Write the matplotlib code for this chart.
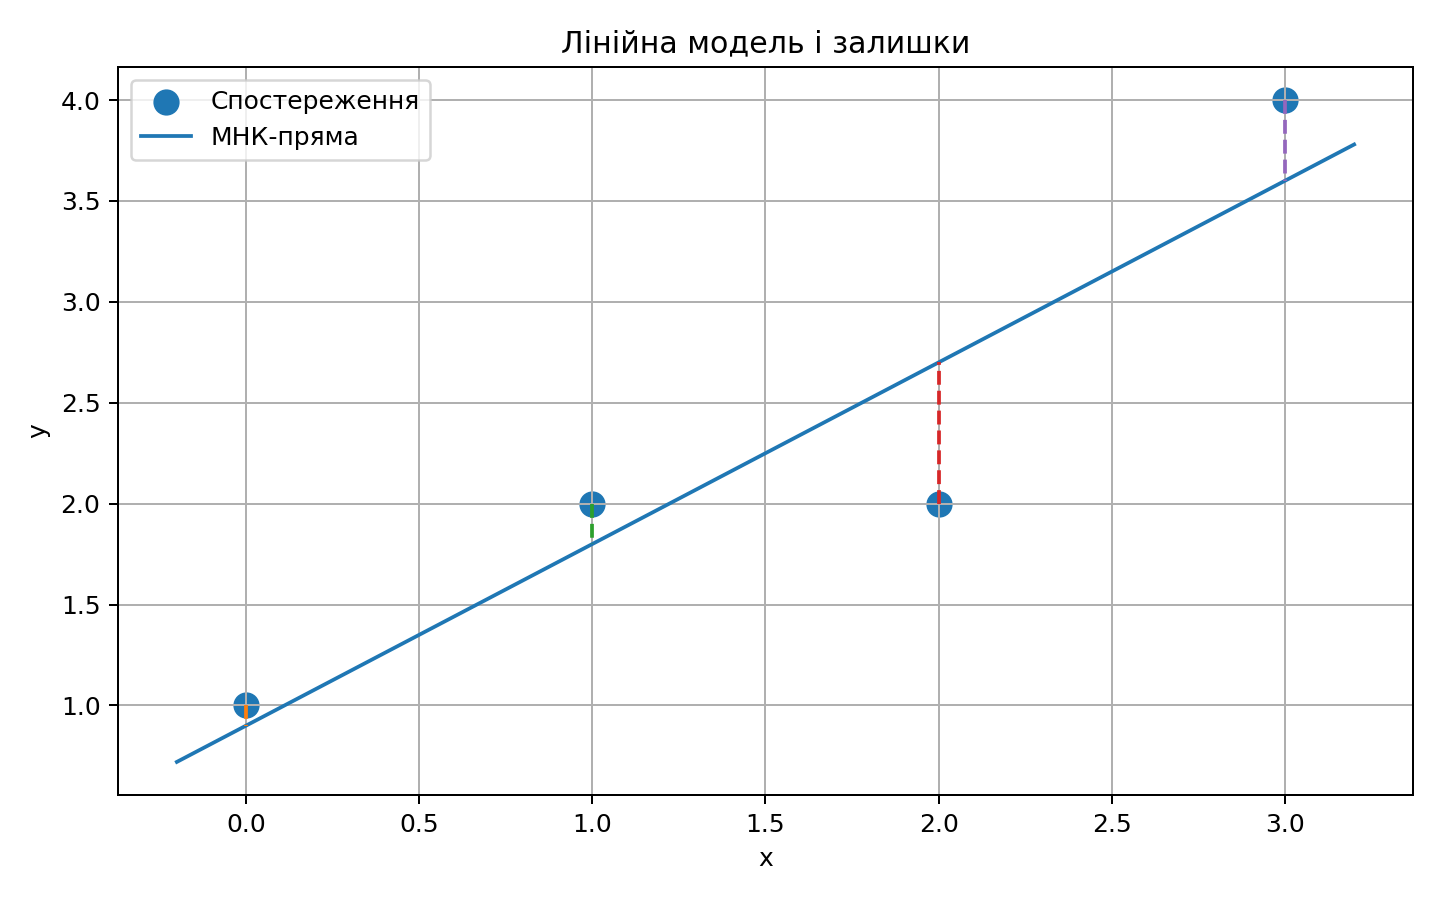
import numpy as np
import matplotlib
matplotlib.use("Agg")
import matplotlib.pyplot as plt

x_obs = np.array([0, 1, 2, 3])
y_obs = np.array([1, 2, 2, 4])
x_line_range = [-0.2, 3.2]
resid_colors = ["C1", "C2", "C3", "C4"]

slope, intercept = np.polyfit(x_obs, y_obs, 1)
x_line = np.linspace(x_line_range[0], x_line_range[1], 100)
y_line = slope * x_line + intercept

fig, ax = plt.subplots(figsize=(8, 5), dpi=180)
ax.scatter(x_obs, y_obs, s=90, color="C0", label="Спостереження")
ax.plot(x_line, y_line, color="C0", label="МНК-пряма")
for xi, yi, c in zip(x_obs, y_obs, resid_colors):
    yhat = slope * xi + intercept
    ax.plot([xi, xi], [yi, yhat], linestyle="--", color=c)
ax.set_title("Лінійна модель і залишки")
ax.set_xlabel("x")
ax.set_ylabel("y")
ax.grid(True)
ax.legend(loc="upper left")
fig.subplots_adjust(left=118/1440, right=1413/1440, top=1-67/900, bottom=1-795/900)
fig.savefig("out.png")
